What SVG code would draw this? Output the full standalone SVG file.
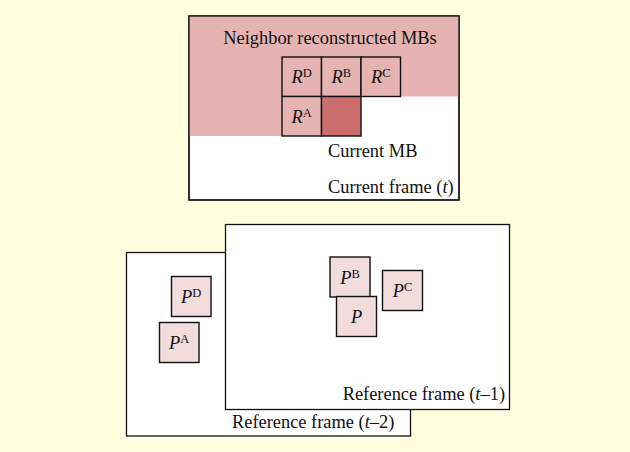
<svg xmlns="http://www.w3.org/2000/svg" width="630" height="452" viewBox="0 0 630 452">
  <style>
    text { font-family: "Liberation Serif", "Times New Roman", serif; font-size: 18.4px; fill: #111; }
    .lbl { text-anchor: middle; }
    .it { font-style: italic; }
    .sup { font-size: 12.5px; }
    .frame { fill: #ffffff; stroke: #111; stroke-width: 1.3; }
    .cell { fill: #e6b3b3; stroke: #111; stroke-width: 1.4; }
    .cur { fill: #cd6e6e; stroke: #111; stroke-width: 1.4; }
    .blk { fill: #f2dcdc; stroke: #111; stroke-width: 1.4; }
  </style>

  <rect x="0" y="0" width="630" height="452" fill="#ffffe0"/>

  <!-- current frame with neighbour region -->
  <g id="current-frame">
    <rect class="frame" x="189" y="16" width="270" height="184"/>
    <path d="M189,16 H459 V96.5 H361 V136 H189 Z" fill="#e6b3b3"/>
    <rect x="189" y="16" width="270" height="184" fill="none" stroke="#111" stroke-width="1.3"/>
    <text x="330" y="44" class="lbl">Neighbor reconstructed MBs</text>
    <text x="328" y="157">Current MB</text>
    <text x="328" y="193">Current frame (<tspan class="it">t</tspan>)</text>
  </g>

  <g id="RD">
    <rect class="cell" x="282" y="57" width="39.5" height="39.5"/>
    <text x="301.75" y="83" class="lbl"><tspan class="it">R</tspan><tspan class="sup" dy="-6">D</tspan></text>
  </g>
  <g id="RB">
    <rect class="cell" x="321.5" y="57" width="39.5" height="39.5"/>
    <text x="341.25" y="83" class="lbl"><tspan class="it">R</tspan><tspan class="sup" dy="-6">B</tspan></text>
  </g>
  <g id="RC">
    <rect class="cell" x="361" y="57" width="39.5" height="39.5"/>
    <text x="380.75" y="83" class="lbl"><tspan class="it">R</tspan><tspan class="sup" dy="-6">C</tspan></text>
  </g>
  <g id="RA">
    <rect class="cell" x="282" y="96.5" width="39.5" height="39.5"/>
    <text x="301.75" y="122.5" class="lbl"><tspan class="it">R</tspan><tspan class="sup" dy="-6">A</tspan></text>
  </g>
  <g id="current-mb">
    <rect class="cur" x="321.5" y="96.5" width="39.5" height="39.5"/>
  </g>

  <!-- reference frames -->
  <g id="ref-frame-t2">
    <rect class="frame" x="126.5" y="252.5" width="284" height="183.5"/>
    <text x="232" y="428">Reference frame (<tspan class="it">t</tspan>–2)</text>
  </g>
  <g id="ref-frame-t1">
    <rect class="frame" x="225.5" y="224.5" width="284" height="185"/>
    <text x="505" y="400" text-anchor="end">Reference frame (<tspan class="it">t</tspan>–1)</text>
  </g>

  <g id="PD">
    <rect class="blk" x="171.5" y="276.5" width="39.5" height="40"/>
    <text x="191.25" y="303" class="lbl"><tspan class="it">P</tspan><tspan class="sup" dy="-6">D</tspan></text>
  </g>
  <g id="PA">
    <rect class="blk" x="159.5" y="322.5" width="39.5" height="40"/>
    <text x="179.25" y="349" class="lbl"><tspan class="it">P</tspan><tspan class="sup" dy="-6">A</tspan></text>
  </g>
  <g id="PB">
    <rect class="blk" x="330" y="257" width="40" height="40"/>
    <text x="350" y="283.5" class="lbl"><tspan class="it">P</tspan><tspan class="sup" dy="-6">B</tspan></text>
  </g>
  <g id="P">
    <rect class="blk" x="336.5" y="296.5" width="40" height="40"/>
    <text x="356.5" y="323" class="lbl"><tspan class="it">P</tspan></text>
  </g>
  <g id="PC">
    <rect class="blk" x="382.5" y="270.5" width="40" height="40"/>
    <text x="402.5" y="297" class="lbl"><tspan class="it">P</tspan><tspan class="sup" dy="-6">C</tspan></text>
  </g>

  <g id="connectors"></g>
</svg>
